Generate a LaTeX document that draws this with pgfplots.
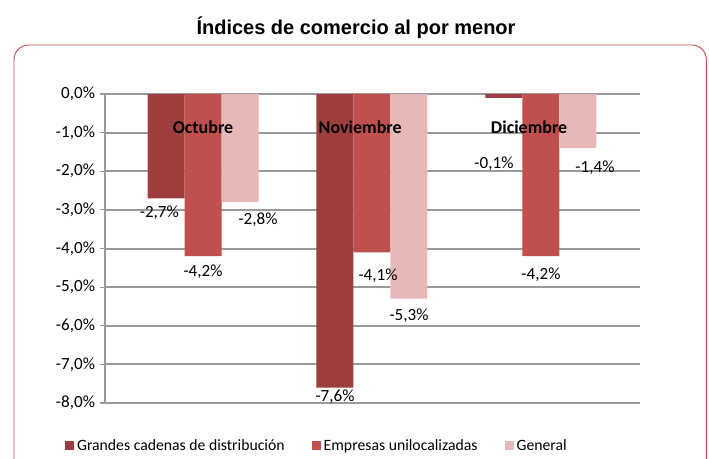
\documentclass[border=0pt]{standalone}
\usepackage{pgfplots}
\usepackage{pgfplotstable}
\pgfplotsset{compat=1.18}
\usepackage{fontspec}
\setmainfont{Carlito}
\newfontfamily\titlefont{Liberation Sans}
\definecolor{cdark}{HTML}{9E3E3C}
\definecolor{cred}{HTML}{C0504D}
\definecolor{cpink}{HTML}{E6B9B8}
\definecolor{borderred}{HTML}{C0504D}
\definecolor{gridgray}{HTML}{9A9A9A}
\pgfplotstableread{
x y label dx dy
0 -2.7 {-2,7\%} -5 -2
1 -7.6 {-7,6\%} 0 1.5
2 -0.1 {-0,1\%} -7.5 -41
}\tdark
\pgfplotstableread{
x y label dx dy
0 -4.2 {-4,2\%} 0 -3
1 -4.1 {-4,1\%} 4.5 -9
2 -4.2 {-4,2\%} 0 -5
}\tred
\pgfplotstableread{
x y label dx dy
0 -2.8 {-2,8\%} 13.5 -4.5
1 -5.3 {-5,3\%} 0 -4
2 -1.4 {-1,4\%} 12.75 -6
}\tpink
\begin{document}
\begin{tikzpicture}[x=1pt,y=1pt]
\path[use as bounding box] (0,0) rectangle (531.75,344.25);
\draw[color=borderred, line width=0.7pt, rounded corners=11pt] (10.5,-20) rectangle (529.8,310.5);
\node[font=\titlefont\bfseries\fontsize{15}{18}\selectfont] at (267,323.5) {Índices de comercio al por menor};
\begin{axis}[
  at={(78.75pt,42pt)}, anchor=south west,
  scale only axis, width=401.25pt, height=231.75pt,
  xmin=-0.58, xmax=2.586, ymin=-8, ymax=0,
  axis x line=none,
  axis y line*=left,
  y axis line style={gridgray, line width=1.5pt, -},
  ytick={-8,-7,-6,-5,-4,-3,-2,-1,0},
  yticklabels={{-8,0\%},{-7,0\%},{-6,0\%},{-5,0\%},{-4,0\%},{-3,0\%},{-2,0\%},{-1,0\%},{0,0\%}},
  yticklabel style={font=\fontsize{12.8}{14}\selectfont},
  ytick style={gridgray, line width=0.8pt},
  major tick length=4pt, tick align=outside,
  ymajorgrids, grid style={gridgray, line width=1.5pt},
  ybar=0pt, bar width=27.75pt,
  point meta=explicit symbolic,
  nodes near coords,
  visualization depends on={\thisrow{dx} \as \dx},
  visualization depends on={\thisrow{dy} \as \dy},
  nodes near coords style={font=\fontsize{12.8}{14}\selectfont, text=black, anchor=north, xshift={\dx*1pt}, yshift={\dy*1pt}},
  legend columns=3,
  legend style={at={(0.397,-0.139)}, anchor=center, draw=none, fill=none,
    font=\fontsize{11.8}{13}\selectfont,
    /tikz/every even column/.append style={column sep=18.5pt}},
  legend image code/.code={\fill[#1, draw=none] (0pt,-3.4pt) rectangle (6.8pt,3.4pt);},
  clip=false,
]
\addplot[fill=cdark, draw=none] table[x=x, y=y, meta=label] {\tdark};
\addplot[fill=cred, draw=none] table[x=x, y=y, meta=label] {\tred};
\addplot[fill=cpink, draw=none] table[x=x, y=y, meta=label] {\tpink};
\legend{Grandes cadenas de distribución, Empresas unilocalizadas\hspace{4.5pt}, General}
\node[font=\bfseries\fontsize{13.5}{15}\selectfont] at (axis cs:0,-0.85) {Octubre};
\node[font=\bfseries\fontsize{13.5}{15}\selectfont] at (axis cs:0.93,-0.85) {Noviembre};
\node[font=\bfseries\fontsize{13.5}{15}\selectfont] at (axis cs:1.93,-0.85) {Diciembre};
\end{axis}
\end{tikzpicture}
\end{document}
